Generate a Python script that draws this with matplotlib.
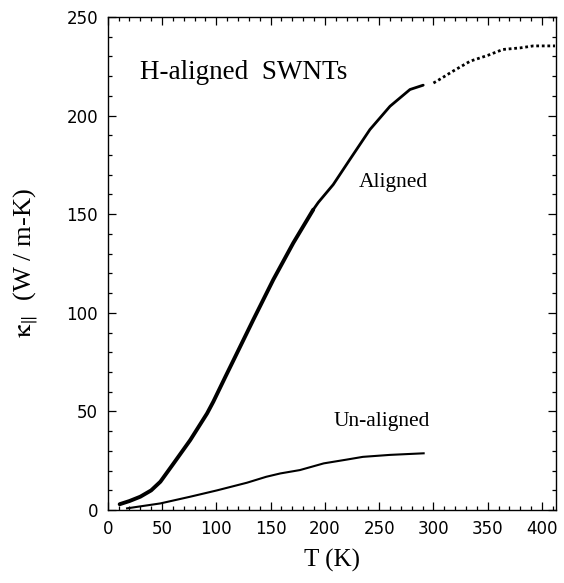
import matplotlib
matplotlib.use("Agg")
import matplotlib.pyplot as plt
from matplotlib.ticker import MultipleLocator

# Aligned SWNTs (two measured segments, gap near 295 K)
aligned_T1 = [11, 20, 30, 40, 48.5, 60.7, 76, 91.5, 97.3, 108.3, 115.7, 134, 152.5, 170.9, 189.3]
aligned_K1 = [3.0, 4.6, 6.8, 10.0, 14.4, 23.7, 35.5, 49.0, 55.0, 67.5, 75.8, 96.4, 116.8, 135.4, 152.3]
aligned_T2 = [189.3, 194, 207.7, 223, 241.5, 260, 278.4, 290.6]
aligned_K2 = [152.3, 156.0, 165.0, 177.7, 192.9, 204.7, 213.2, 215.4]
aligned_T3 = [300, 303, 318, 334, 350, 364, 380, 392, 412]
aligned_K3 = [216.5, 217.4, 222.5, 227.6, 230.5, 233.5, 234.3, 235.3, 235.3]

# Un-aligned SWNTs
unaligned_T = [17.8, 30, 48.5, 76, 100.6, 128.3, 146, 159, 177, 199, 220, 235, 260, 291]
unaligned_K = [0.9, 1.9, 3.4, 6.8, 10.0, 13.9, 16.9, 18.6, 20.3, 23.7, 25.6, 27.0, 28.0, 28.8]

x_ticks = [0, 50, 100, 150, 200, 250, 300, 350, 400]
y_ticks = [0, 50, 100, 150, 200, 250]

plt.rcParams["mathtext.fontset"] = "stix"
serif = "Liberation Serif"

fig = plt.figure(figsize=(5.64, 5.83), dpi=100)
ax = fig.add_axes([0.191, 0.125, 0.795, 0.846])

ax.plot(aligned_T1, aligned_K1, color="black", lw=2.8, solid_capstyle="round")
ax.plot(aligned_T2, aligned_K2, color="black", lw=2.0, solid_capstyle="round")
ax.plot(aligned_T3, aligned_K3, color="black", lw=2.0, ls=(0, (1.0, 1.0)))
ax.plot(unaligned_T, unaligned_K, color="black", lw=1.5)

ax.set_xlim(0, 413)
ax.set_ylim(0, 250)
ax.set_xticks(x_ticks)
ax.set_yticks(y_ticks)
ax.xaxis.set_minor_locator(MultipleLocator(10))
ax.yaxis.set_minor_locator(MultipleLocator(10))
ax.tick_params(which="both", direction="in", top=True, right=True, width=0.9)
ax.tick_params(which="major", length=6, labelsize=12, pad=7)
ax.tick_params(which="minor", length=3)
for lab in ax.get_xticklabels() + ax.get_yticklabels():
    lab.set_family("DejaVu Sans")
for s in ax.spines.values():
    s.set_linewidth(1.0)

ax.set_xlabel("T (K)", fontsize=18, family=serif, labelpad=8)
ax.set_ylabel(r"$\mathrm{\kappa}_{\|}$  (W / m-K)", fontsize=19, family=serif, labelpad=18)

ax.text(30, 222, "H-aligned  SWNTs", fontsize=19.5, family=serif, va="center", ha="left")
ax.text(231, 166, "Aligned", fontsize=15.5, family=serif, va="center", ha="left")
ax.text(208, 45, "Un-aligned", fontsize=15.5, family=serif, va="center", ha="left")

fig.savefig("out.png", dpi=100)
